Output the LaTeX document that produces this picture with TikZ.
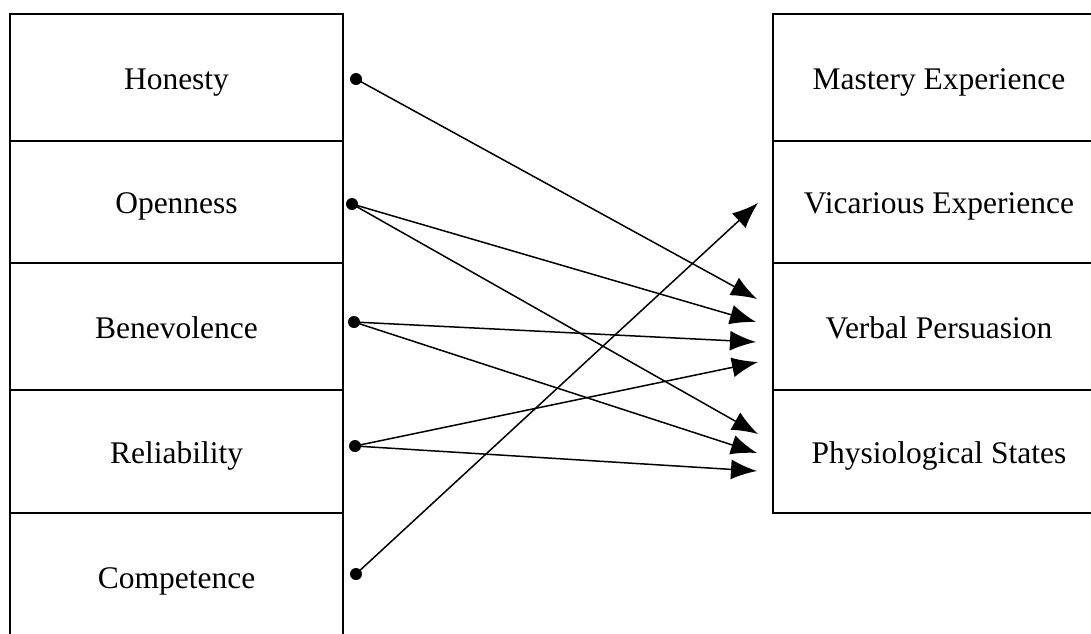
\documentclass[tikz,border=0pt]{standalone}
\usepackage{fontspec}
\setmainfont{Liberation Serif}
\usetikzlibrary{arrows.meta}

\begin{document}
\begin{tikzpicture}[x=0.5pt,y=-0.5pt,
	box/.style={draw,line width=1pt,minimum width=166.5pt,inner sep=0pt,text height=11.5pt,text depth=0pt,font=\fontsize{15.75}{19}\selectfont},
	conn/.style={line width=0.75pt,-{Latex[length=13pt,width=10pt]}},
	]
		\useasboundingbox (0,0) rectangle (1091,633);
		%trust boxes
		\node[box,minimum height=63.5pt] (hon) at (176.5,77.5) {Honesty};
		\node[box,minimum height=61pt] (opn) at (176.5,202) {Openness};
		\node[box,minimum height=63.5pt] (ben) at (176.5,326.5) {Benevolence};
		\node[box,minimum height=61.5pt] (rel) at (176.5,451.5) {Reliability};
		\node[box,minimum height=63.5pt] (com) at (176.5,576.5) {Competence};
		%efficacy boxes
		\node[box,minimum height=63.5pt] (mas) at (939,77.5) {Mastery Experience};
		\node[box,minimum height=61pt] (vic) at (939,202) {Vicarious Experience};
		\node[box,minimum height=63.5pt] (verb) at (939,326.5) {Verbal Persuasion};
		\node[box,minimum height=61.5pt] (phys) at (939,451.5) {Physiological States};
		%start points
		\coordinate (hon-out) at (356,79);
		\coordinate (opn-out) at (352,204);
		\coordinate (ben-out) at (354,322);
		\coordinate (rel-out) at (355,446);
		\coordinate (com-out) at (356,574);
		%end points
		\coordinate (vic-in) at (758,203);
		\coordinate (verb-in1) at (757,299);
		\coordinate (verb-in2) at (756,322);
		\coordinate (verb-in3) at (756,342);
		\coordinate (verb-in4) at (758,362);
		\coordinate (phys-in1) at (758,434);
		\coordinate (phys-in2) at (757,453);
		\coordinate (phys-in3) at (757,471);
		%dots
		\fill (hon-out) circle (3pt);
		\fill (opn-out) circle (3pt);
		\fill (ben-out) circle (3pt);
		\fill (rel-out) circle (3pt);
		\fill (com-out) circle (3pt);
		%arrows
		\draw[conn] (hon-out) -- (verb-in1);
		\draw[conn] (opn-out) -- (verb-in2);
		\draw[conn] (opn-out) -- (phys-in1);
		\draw[conn] (ben-out) -- (verb-in3);
		\draw[conn] (ben-out) -- (phys-in2);
		\draw[conn] (rel-out) -- (verb-in4);
		\draw[conn] (rel-out) -- (phys-in3);
		\draw[conn] (com-out) -- (vic-in);
	\end{tikzpicture}
\end{document}
